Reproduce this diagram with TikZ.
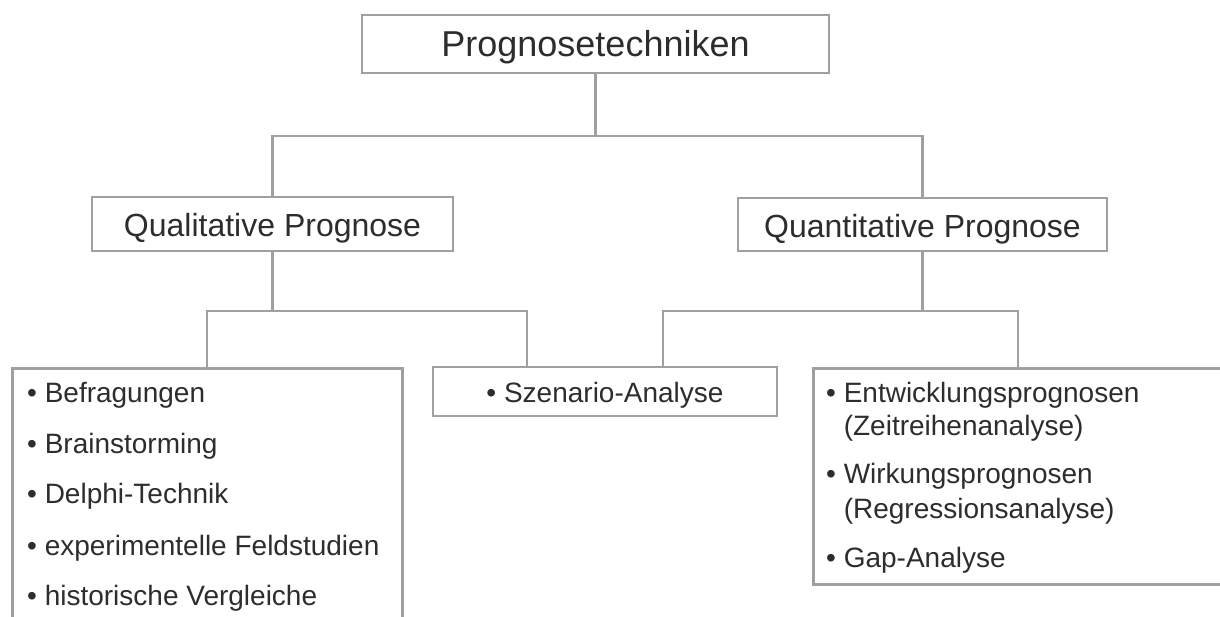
\documentclass[tikz,border=0pt]{standalone}
\usepackage{fontspec}
\setmainfont{Liberation Sans}
\usetikzlibrary{calc}
\definecolor{linegray}{RGB}{160,160,160}
\definecolor{txt}{RGB}{45,45,45}
\begin{document}
\begin{tikzpicture}[x=1pt,y=-1pt,
  box/.style={draw=linegray, line width=2.5pt, fill=white, inner sep=0pt, text=txt},
  conn/.style={draw=linegray, line width=2.5pt},
  item/.style={anchor=base west, inner sep=0pt, text=txt, font=\fontsize{28}{34}\selectfont}]
\useasboundingbox (0,0) rectangle (1220,617);
\clip (0,0) rectangle (1220,617);
\fill[white] (0,0) rectangle (1220,617);

% connectors
\coordinate (bus1) at (595.5,136);
\coordinate (bus2) at (272.5,311);
\coordinate (bus3) at (922.5,311);
\coordinate (lt) at (207,367);
\coordinate (szl) at (527,367);
\coordinate (szr) at (663,367);
\coordinate (rt) at (1018,367);

% boxes
\node[box, minimum width=467pt, minimum height=58pt, font=\fontsize{36}{43}\selectfont, text height=26pt, text depth=0pt] (top) at (595.5,44) {Prognosetechniken};
\node[box, minimum width=361pt, minimum height=54pt, font=\fontsize{32}{38}\selectfont, text height=26pt, text depth=0pt] (qual) at (272.5,224) {Qualitative Prognose};
\node[box, minimum width=369pt, minimum height=53pt, font=\fontsize{32}{38}\selectfont, text height=26pt, text depth=0pt] (quant) at (922.5,224.5) {Quantitative Prognose};
\node[box, minimum width=344pt, minimum height=49pt, font=\fontsize{28}{34}\selectfont, text height=21pt, text depth=0pt] (szen) at (605,391.5) {• Szenario-Analyse};
\node[box, anchor=north west, minimum width=390pt, minimum height=300pt] (left) at (11,367) {};
\node[box, anchor=north west, minimum width=440pt, minimum height=216pt] (right) at (812,367) {};

\draw[conn] (top.south) -- (bus1);
\draw[conn] (qual.north) |- (bus1) -| (quant.north);
\draw[conn] (qual.south) -- (bus2);
\draw[conn] (lt) |- (bus2) -| (szl);
\draw[conn] (quant.south) -- (bus3);
\draw[conn] (szr) |- (bus3) -| (rt);

% left list
\node[item] (l1) at (27,402) {• Befragungen};
\node[item] (l2) at (27,453) {• Brainstorming};
\node[item] (l3) at (27,503) {• Delphi-Technik};
\node[item] (l4) at (27,555) {• experimentelle Feldstudien};
\node[item] (l5) at (27,605) {• historische Vergleiche};

% right list
\node[item] (r1) at (826,402) {• Entwicklungsprognosen};
\node[item] (r1b) at (826,435) {\hphantom{• }(Zeitreihenanalyse)};
\node[item] (r2) at (826,483) {• Wirkungsprognosen};
\node[item] (r2b) at (826,518) {\hphantom{• }(Regressionsanalyse)};
\node[item] (r3) at (826,567) {• Gap-Analyse};
\end{tikzpicture}
\end{document}
